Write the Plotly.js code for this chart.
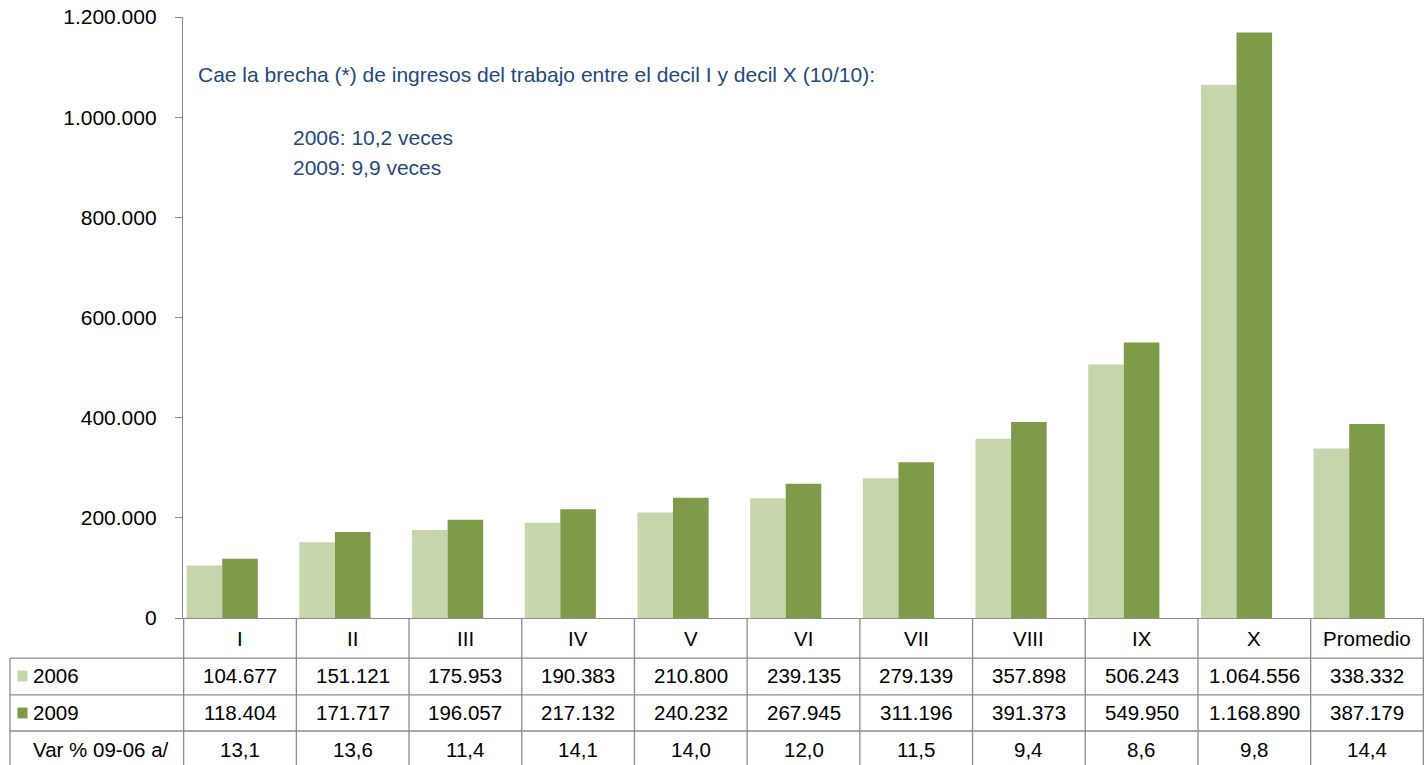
<!DOCTYPE html>
<html>
<head>
<meta charset="utf-8">
<script src="https://cdn.plot.ly/plotly-3.0.1.min.js"></script>
<style>
  body { margin: 0; background: #fff; }
  #plot { width: 1424px; height: 765px; }
</style>
</head>
<body>
<div id="plot"></div>
<script>
// deciles de ingreso del trabajo
var deciles = ['I', 'II', 'III', 'IV', 'V', 'VI', 'VII', 'VIII', 'IX', 'X', 'Promedio'];
var y2006 = [104677, 151121, 175953, 190383, 210800, 239135, 279139, 357898, 506243, 1064556, 338332];
var y2009 = [118404, 171717, 196057, 217132, 240232, 267945, 311196, 391373, 549950, 1168890, 387179];
var varPct = [13.1, 13.6, 11.4, 14.1, 14.0, 12.0, 11.5, 9.4, 8.6, 9.8, 14.4];

var light = '#c5d6ac';
var dark = '#7f9b4a';
var grid = '#8c8c8c';
var blue = '#1f497d';

function miles(n) {
  return String(n).replace(/\B(?=(\d{3})+(?!\d))/g, '.');
}
function coma(n) {
  return n.toFixed(1).replace('.', ',');
}

var trace1 = {
  x: deciles, y: y2006, name: '2006', type: 'bar',
  marker: {color: light}, hoverinfo: 'y'
};
var trace2 = {
  x: deciles, y: y2009, name: '2009', type: 'bar',
  marker: {color: dark}, hoverinfo: 'y'
};
// third series (Var %) is tiny on this scale, only takes its slot
var trace3 = {
  x: deciles, y: varPct, name: 'Var % 09-06 a/', type: 'bar',
  marker: {color: 'rgba(0,0,0,0)'}, hoverinfo: 'skip'
};

// table rows in paper units (plot spans 601px tall, 1241px wide)
var rowTop = [0, -0.0666, -0.128, -0.188, -0.246];
var rowMid = [-0.034, -0.0965, -0.158, -0.219];
var leftX = -0.1394;

var shapes = [];
var annotations = [];

for (var i = 0; i <= deciles.length; i++) {
  shapes.push({type: 'line', xref: 'x', yref: 'paper', x0: i - 0.5, x1: i - 0.5,
    y0: 0, y1: rowTop[4], line: {color: grid, width: 1.3}});
}
shapes.push({type: 'line', xref: 'paper', yref: 'paper', x0: leftX, x1: leftX,
  y0: rowTop[1], y1: rowTop[4], line: {color: grid, width: 1.3}});
[1, 2, 3].forEach(function (r) {
  shapes.push({type: 'line', xref: 'paper', yref: 'paper', x0: leftX, x1: 1,
    y0: rowTop[r], y1: rowTop[r], line: {color: grid, width: 1.3}});
});

// legend keys
shapes.push({type: 'rect', xref: 'paper', yref: 'paper', x0: -0.1334, x1: -0.1253,
  y0: rowMid[1] - 0.009, y1: rowMid[1] + 0.009, fillcolor: light, line: {width: 0}});
shapes.push({type: 'rect', xref: 'paper', yref: 'paper', x0: -0.1334, x1: -0.1253,
  y0: rowMid[2] - 0.009, y1: rowMid[2] + 0.009, fillcolor: dark, line: {width: 0}});

var tfont = {family: 'Liberation Sans, Arial, sans-serif', size: 20.5, color: '#000'};
function cell(x, y, txt) {
  annotations.push({xref: 'x', yref: 'paper', x: x, y: y, text: txt, showarrow: false,
    xanchor: 'center', yanchor: 'middle', font: tfont});
}
deciles.forEach(function (d, k) {
  cell(d, rowMid[0], d);
  cell(d, rowMid[1], miles(y2006[k]));
  cell(d, rowMid[2], miles(y2009[k]));
  cell(d, rowMid[3], coma(varPct[k]));
});
[['2006', rowMid[1], -0.1225], ['2009', rowMid[2], -0.1225], ['Var % 09-06 a/', rowMid[3], -0.1225]]
  .forEach(function (r) {
    annotations.push({xref: 'paper', yref: 'paper', x: r[2], y: r[1], text: r[0],
      showarrow: false, xanchor: 'left', yanchor: 'middle', font: tfont});
  });

var nfont = {family: 'Liberation Sans, Arial, sans-serif', size: 21, color: blue};
annotations.push({xref: 'paper', yref: 'paper', x: 0.0105, y: 0.9035, xanchor: 'left', yanchor: 'middle',
  showarrow: false, font: nfont,
  text: 'Cae la brecha (*) de ingresos del trabajo entre el decil I y decil X (10/10):'});
annotations.push({xref: 'paper', yref: 'paper', x: 0.087, y: 0.8003, xanchor: 'left', yanchor: 'middle',
  showarrow: false, font: nfont, text: '2006: 10,2 veces'});
annotations.push({xref: 'paper', yref: 'paper', x: 0.087, y: 0.7504, xanchor: 'left', yanchor: 'middle',
  showarrow: false, font: nfont, text: '2009: 9,9 veces'});

var layout = {
  width: 1424, height: 765,
  margin: {l: 183, r: 0, t: 17, b: 147},
  paper_bgcolor: '#fff', plot_bgcolor: '#fff',
  separators: ',.',
  barmode: 'group', bargap: 0.053, bargroupgap: 0,
  showlegend: false,
  font: tfont,
  xaxis: {
    type: 'category', showticklabels: false, ticks: '',
    showline: true, linecolor: grid, linewidth: 1.3, showgrid: false, zeroline: false
  },
  yaxis: {
    range: [0, 1200000], tickvals: [0, 200000, 400000, 600000, 800000, 1000000, 1200000],
    tickformat: ',d', showgrid: false, zeroline: false,
    showline: true, linecolor: '#868686', linewidth: 1.3,
    ticks: 'outside', ticklen: 7, tickcolor: '#868686', ticklabelstandoff: 14,
    tickfont: {family: 'Liberation Sans, Arial, sans-serif', size: 21, color: '#000'}
  },
  shapes: shapes,
  annotations: annotations
};

Plotly.newPlot('plot', [trace1, trace2, trace3], layout, {displayModeBar: false});
</script>
</body>
</html>
